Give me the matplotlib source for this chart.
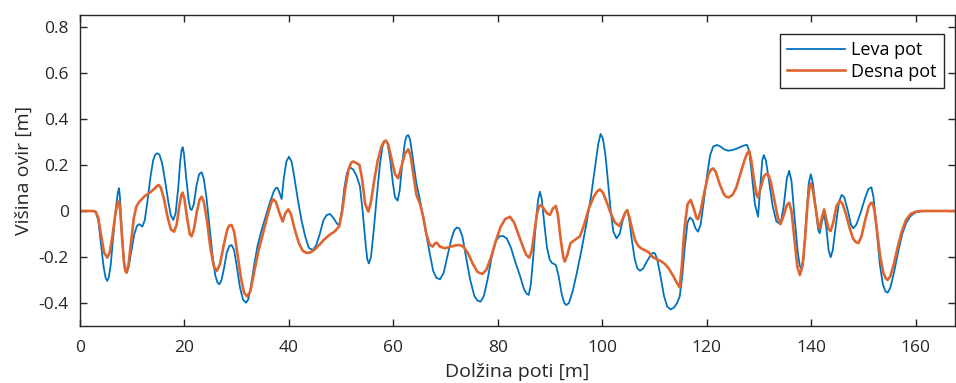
import matplotlib
matplotlib.use("Agg")
import matplotlib.pyplot as plt
from matplotlib.ticker import FixedLocator, FuncFormatter

plt.rcParams['font.family'] = ['Open Sans', 'DejaVu Sans']
plt.rcParams['axes.unicode_minus'] = False

# Leva pot (blue)
leva_x = [0, 2.5, 3.0, 3.5, 4.0, 4.5, 4.9, 5.2, 5.5, 5.9, 6.4, 6.9, 7.25, 7.46, 7.65, 7.9, 8.3,
          8.6, 8.93, 9.3, 9.8, 10.4, 10.9, 11.35, 11.93, 12.4, 12.9, 13.5, 14.0, 14.4, 14.8,
          15.2, 15.7, 16.3, 16.9, 17.4, 17.86, 18.3, 18.8, 19.2, 19.45, 19.65, 19.9, 20.3,
          20.8, 21.1, 21.37, 21.8, 22.3, 22.8, 23.29, 23.7, 24.2, 24.8, 25.4, 25.9, 26.3,
          26.67, 27.1, 27.6, 28.1, 28.6, 29.03, 29.5, 30.0, 30.6, 31.2, 31.77, 32.2, 32.7,
          33.3, 34.0, 34.8, 35.6, 36.4, 37.1, 37.5, 37.77, 38.1, 38.6, 39.0, 39.5, 40.0,
          40.5, 41.0, 41.7, 42.4, 43.1, 43.8, 44.53, 45.2, 45.9, 46.6, 47.2, 47.85, 48.5,
          49.2, 49.63, 50.1, 50.6, 51.1, 51.5, 51.8, 52.3, 52.9, 53.6, 54.1, 54.7, 55.0,
          55.3, 55.7, 56.2, 56.8, 57.4, 57.9, 58.25, 58.56, 58.9, 59.4, 59.9, 60.3, 60.8,
          61.2, 61.7, 62.2, 62.5, 62.84, 63.2, 63.7, 64.4, 65.1, 65.7, 66.4, 67.0, 67.6,
          68.2, 68.9, 69.6, 70.3, 71.0, 71.6, 72.1, 72.6, 73.2, 73.9, 74.7, 75.5, 76.1,
          76.7, 77.3, 78.0, 78.8, 79.6, 80.3, 81.0, 81.7, 82.5, 83.3, 84.2, 85.0, 85.5,
          85.9, 86.3, 86.8, 87.3, 87.7, 88.04, 88.4, 88.9, 89.4, 89.9, 90.3, 91.1, 91.6,
          92.2, 92.7, 93.1, 93.6, 94.3, 95.1, 96.0, 96.9, 97.8, 98.6, 99.2, 99.65, 100.1,
          100.6, 101.1, 101.6, 102.1, 102.7, 103.3, 103.9, 104.4, 104.75, 105.1, 105.6,
          106.2, 106.7, 107.2, 107.8, 108.5, 109.3, 109.7, 110.05, 110.5, 111.1, 111.8,
          112.4, 113.05, 113.7, 114.3, 114.8, 115.3, 115.8, 116.3, 116.75, 117.3, 117.8,
          118.3, 118.8, 119.4, 120.0, 120.6, 121.2, 121.97, 122.6, 123.3, 124.1, 124.9,
          125.8, 126.6, 127.3, 127.7, 128.1, 128.6, 129.2, 129.8, 130.2, 130.6, 130.9,
          131.3, 131.9, 132.6, 133.3, 134.1, 134.7, 135.3, 135.75, 136.2, 136.8, 137.4,
          137.8, 138.1, 138.5, 139.0, 139.5, 139.9, 140.3, 140.9, 141.3, 141.6, 142.0,
          142.45, 142.9, 143.3, 143.7, 144.1, 144.7, 145.3, 145.8, 146.3, 147.0, 147.6,
          148.0, 148.6, 149.4, 150.2, 150.9, 151.5, 151.9, 152.5, 153.1, 153.7, 154.2,
          154.6, 155.1, 155.8, 156.6, 157.4, 158.2, 159.0, 159.8, 160.8, 162.0, 168.0]
leva_y = [0, 0, -0.005, -0.04, -0.14, -0.24, -0.29, -0.304, -0.29, -0.23, -0.1, 0.02, 0.08,
          0.099, 0.06, -0.05, -0.19, -0.255, -0.268, -0.245, -0.18, -0.1, -0.065, -0.057,
          -0.068, -0.04, 0.04, 0.15, 0.22, 0.245, 0.251, 0.245, 0.21, 0.13, 0.04, -0.02,
          -0.039, -0.01, 0.1, 0.22, 0.265, 0.277, 0.25, 0.15, 0.045, 0.01, 0.004, 0.03, 0.11,
          0.16, 0.168, 0.14, 0.06, -0.07, -0.2, -0.28, -0.31, -0.319, -0.3, -0.245, -0.18,
          -0.152, -0.148, -0.17, -0.24, -0.33, -0.385, -0.399, -0.385, -0.33, -0.24, -0.15,
          -0.08, -0.02, 0.04, 0.085, 0.1, 0.101, 0.085, 0.052, 0.14, 0.215, 0.236, 0.215,
          0.15, 0.05, -0.04, -0.11, -0.16, -0.17, -0.15, -0.1, -0.04, -0.018, -0.013, -0.03,
          -0.055, -0.065, 0.0, 0.1, 0.165, 0.185, 0.188, 0.18, 0.155, 0.106, 0.0, -0.15,
          -0.21, -0.228, -0.2, -0.09, 0.06, 0.2, 0.28, 0.302, 0.306, 0.29, 0.22, 0.12, 0.06,
          0.045, 0.09, 0.21, 0.3, 0.325, 0.33, 0.31, 0.23, 0.12, 0.045, -0.03, -0.12, -0.19,
          -0.26, -0.29, -0.297, -0.27, -0.2, -0.13, -0.085, -0.072, -0.075, -0.11, -0.2,
          -0.3, -0.37, -0.39, -0.394, -0.37, -0.3, -0.2, -0.13, -0.11, -0.109, -0.12, -0.16,
          -0.22, -0.28, -0.34, -0.36, -0.365, -0.32, -0.19, -0.04, 0.05, 0.084, 0.05, -0.06,
          -0.16, -0.21, -0.225, -0.235, -0.28, -0.36, -0.4, -0.409, -0.4, -0.35, -0.27,
          -0.17, -0.06, 0.06, 0.19, 0.29, 0.335, 0.315, 0.24, 0.12, 0.0, -0.09, -0.119, -0.1,
          -0.04, -0.005, 0.004, -0.03, -0.12, -0.21, -0.25, -0.26, -0.25, -0.22, -0.19,
          -0.182, -0.184, -0.21, -0.28, -0.37, -0.415, -0.428, -0.42, -0.4, -0.372, -0.28,
          -0.15, -0.05, -0.028, -0.04, -0.075, -0.09, -0.06, 0.04, 0.15, 0.24, 0.28, 0.287,
          0.28, 0.268, 0.262, 0.265, 0.272, 0.28, 0.286, 0.287, 0.26, 0.16, 0.03, -0.025,
          0.1, 0.22, 0.243, 0.22, 0.13, 0.02, -0.045, -0.057, 0.02, 0.14, 0.175, 0.13, -0.03,
          -0.18, -0.24, -0.249, -0.21, -0.04, 0.12, 0.16, 0.12, 0.0, -0.08, -0.097, -0.05,
          -0.01, -0.08, -0.17, -0.201, -0.17, -0.06, 0.04, 0.07, 0.06, 0.0, -0.06, -0.075,
          -0.06, -0.01, 0.05, 0.095, 0.103, 0.06, -0.08, -0.23, -0.32, -0.35, -0.355, -0.335,
          -0.27, -0.18, -0.1, -0.05, -0.022, -0.008, -0.002, 0, 0]

# Desna pot (orange)
desna_x = [0, 2.5, 3.0, 3.5, 4.0, 4.6, 5.2, 5.7, 6.2, 6.8, 7.2, 7.46, 7.7, 8.0, 8.4, 8.7, 8.93,
           9.3, 9.8, 10.3, 10.8, 11.35, 12.4, 13.4, 14.3, 14.8, 15.1, 15.5, 16.1, 16.8, 17.4,
           18.0, 18.5, 19.0, 19.4, 19.65, 20.0, 20.5, 21.0, 21.37, 21.8, 22.4, 22.9, 23.29,
           23.7, 24.3, 24.9, 25.6, 26.2, 26.8, 27.5, 28.2, 28.6, 29.03, 29.5, 30.1, 30.8,
           31.4, 32.0, 32.6, 33.3, 34.1, 35.0, 35.9, 36.6, 37.0, 37.5, 38.2, 38.8, 39.3,
           39.87, 40.4, 41.1, 41.9, 42.6, 43.3, 44.0, 44.8, 45.7, 46.7, 47.7, 48.7, 49.6,
           50.2, 50.8, 51.4, 51.9, 52.3, 52.8, 53.5, 54.0, 54.6, 55.2, 55.7, 56.3, 57.0,
           57.7, 58.2, 58.56, 59.0, 59.6, 60.3, 60.9, 61.5, 62.2, 62.84, 63.3, 63.8, 64.4,
           65.1, 65.7, 66.3, 66.9, 67.5, 68.0, 68.3, 68.9, 69.85, 70.8, 71.8, 72.6, 73.4,
           74.3, 75.2, 76.1, 77.0, 77.8, 78.7, 79.6, 80.5, 81.4, 82.3, 83.1, 83.9, 84.7,
           85.4, 86.0, 86.5, 87.0, 87.5, 87.9, 88.2, 88.8, 89.4, 89.95, 90.5, 91.1, 91.5,
           92.0, 92.5, 92.8, 93.3, 93.9, 94.7, 95.7, 96.5, 97.4, 98.3, 99.0, 99.5, 100.1,
           100.8, 101.6, 102.4, 103.2, 103.8, 104.3, 104.75, 105.2, 105.7, 106.3, 107.0,
           107.6, 108.1, 108.9, 109.6, 110.4, 111.2, 111.96, 112.7, 113.5, 114.2, 114.8,
           115.2, 115.7, 116.3, 116.9, 117.5, 118.0, 118.3, 118.8, 119.5, 120.3, 120.8,
           121.2, 121.7, 122.4, 123.2, 123.7, 124.2, 124.9, 125.6, 126.4, 127.2, 127.7,
           128.1, 128.5, 129.0, 129.5, 129.8, 130.3, 130.9, 131.3, 131.7, 132.2, 132.9,
           133.6, 134.1, 134.7, 135.3, 135.75, 136.2, 136.8, 137.3, 137.8, 138.3, 138.8,
           139.3, 139.7, 139.9, 140.3, 140.9, 141.3, 141.6, 142.0, 142.45, 142.9, 143.3,
           143.7, 144.2, 144.8, 145.45, 146.0, 146.7, 147.4, 148.0, 148.5, 149.0, 149.6,
           150.3, 151.0, 151.4, 151.7, 152.1, 152.6, 153.2, 153.8, 154.3, 154.6, 155.1,
           155.8, 156.5, 157.3, 158.1, 159.0, 160.0, 161.0, 168.0]
desna_y = [0, 0, -0.003, -0.03, -0.1, -0.18, -0.203, -0.18, -0.11, -0.01, 0.035, 0.043, 0.0,
           -0.1, -0.22, -0.262, -0.268, -0.23, -0.13, -0.03, 0.02, 0.04, 0.065, 0.08, 0.098,
           0.11, 0.113, 0.1, 0.05, -0.03, -0.08, -0.09, -0.06, 0.02, 0.07, 0.08, 0.05, -0.03,
           -0.1, -0.11, -0.08, 0.0, 0.05, 0.062, 0.04, -0.04, -0.15, -0.24, -0.261, -0.23,
           -0.15, -0.08, -0.063, -0.061, -0.09, -0.18, -0.29, -0.355, -0.372, -0.35, -0.27,
           -0.18, -0.1, -0.02, 0.035, 0.051, 0.04, -0.01, -0.046, -0.01, 0.007, -0.015, -0.08,
           -0.14, -0.172, -0.182, -0.181, -0.17, -0.15, -0.125, -0.105, -0.09, -0.068, 0.0,
           0.1, 0.18, 0.21, 0.215, 0.21, 0.2, 0.14, 0.03, -0.003, 0.04, 0.13, 0.22, 0.28,
           0.302, 0.306, 0.29, 0.23, 0.16, 0.142, 0.19, 0.25, 0.268, 0.24, 0.16, 0.07, 0.03,
           -0.025, -0.1, -0.145, -0.155, -0.14, -0.138, -0.155, -0.162, -0.156, -0.15, -0.148,
           -0.155, -0.185, -0.23, -0.265, -0.274, -0.255, -0.2, -0.13, -0.07, -0.035, -0.025,
           -0.05, -0.1, -0.15, -0.19, -0.203, -0.17, -0.09, -0.01, 0.02, 0.026, 0.01, -0.01,
           -0.017, 0.01, 0.022, -0.02, -0.12, -0.2, -0.22, -0.19, -0.14, -0.126, -0.11, -0.06,
           0.01, 0.06, 0.085, 0.094, 0.08, 0.04, -0.01, -0.05, -0.065, -0.04, -0.01, 0.004,
           -0.03, -0.08, -0.13, -0.155, -0.165, -0.17, -0.18, -0.2, -0.21, -0.218, -0.23,
           -0.25, -0.28, -0.31, -0.332, -0.24, -0.08, 0.03, 0.048, 0.01, -0.03, -0.036, 0.0,
           0.08, 0.16, 0.18, 0.185, 0.17, 0.12, 0.075, 0.062, 0.059, 0.07, 0.1, 0.16, 0.22,
           0.25, 0.262, 0.22, 0.14, 0.07, 0.059, 0.1, 0.15, 0.16, 0.161, 0.13, 0.05, -0.03,
           -0.057, -0.02, 0.025, 0.036, 0.0, -0.13, -0.24, -0.278, -0.24, -0.12, 0.04, 0.11,
           0.12, 0.09, 0.0, -0.06, -0.075, -0.03, 0.007, -0.04, -0.08, -0.087, -0.05, 0.02,
           0.045, 0.03, -0.02, -0.08, -0.12, -0.135, -0.14, -0.11, -0.04, 0.02, 0.035, 0.036,
           0.0, -0.09, -0.2, -0.27, -0.295, -0.3, -0.285, -0.23, -0.16, -0.09, -0.04, -0.013,
           -0.003, 0, 0]

x_ticks = [0, 20, 40, 60, 80, 100, 120, 140, 160]
y_ticks = [-0.4, -0.2, 0, 0.2, 0.4, 0.6, 0.8]
series_labels = ['Leva pot', 'Desna pot']
x_label = 'Dolžina poti [m]'
y_label = 'Višina ovir [m]'

fig = plt.figure(figsize=(9.56, 3.83), dpi=100)
ax = fig.add_axes([80/956, 57/383, 875/956, 311/383])

ax.plot(leva_x, leva_y, color='#0072BD', lw=1.3, label=series_labels[0],
        solid_joinstyle='round')
ax.plot(desna_x, desna_y, color='#DF6530', lw=1.9, label=series_labels[1],
        solid_joinstyle='round')

ax.set_xlim(0, 167.5)
ax.set_ylim(-0.5, 0.852)
ax.xaxis.set_major_locator(FixedLocator(x_ticks))
ax.yaxis.set_major_locator(FixedLocator(y_ticks))
ax.yaxis.set_major_formatter(FuncFormatter(lambda v, p: '0' if abs(v) < 1e-9 else f'{v:.1f}'))
ax.tick_params(direction='in', length=5, width=1.0, top=True, right=True,
               labelsize=12.5, colors='#262626')
ax.tick_params(axis='x', pad=10)
ax.tick_params(axis='y', pad=8)
for s in ax.spines.values():
    s.set_color('#262626')
    s.set_linewidth(1.0)

ax.set_xlabel(x_label, fontsize=14, color='#262626', labelpad=5)
ax.set_ylabel(y_label, fontsize=14, color='#262626', labelpad=4)

leg = ax.legend(loc='upper right', fontsize=13, frameon=True, fancybox=False,
                edgecolor='#262626', framealpha=1, handlelength=3.2, borderpad=0.4,
                labelspacing=0.2, handletextpad=0.35, borderaxespad=0,
                bbox_to_anchor=(0.987, 0.939))
leg.get_frame().set_linewidth(1.0)

fig.savefig('out.png', dpi=100)
